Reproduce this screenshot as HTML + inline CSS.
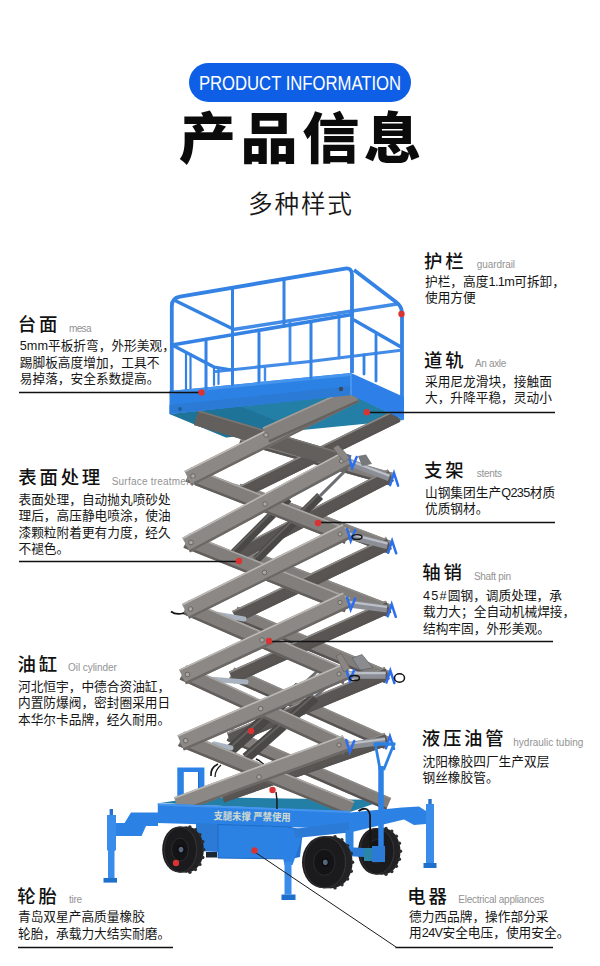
<!DOCTYPE html>
<html lang="zh-CN"><head><meta charset="utf-8"><title>产品信息</title>
<style>
html,body{margin:0;padding:0;background:#fff;}
body{width:600px;height:966px;position:relative;overflow:hidden;font-family:"Liberation Sans","Noto Sans CJK SC",sans-serif;color:#111;}
.pill{position:absolute;left:189px;top:63px;width:222px;height:39px;border-radius:19.5px;background:#0f5fe6;color:#fff;text-align:center;font-size:20.5px;line-height:39px;white-space:nowrap;}
.pill span{position:absolute;left:50%;top:0;transform:translateX(-50%) scaleX(0.813);transform-origin:center;}
.title{position:absolute;left:0;top:96.4px;width:600px;text-align:center;font-family:"Liberation Sans","Noto Sans CJK SC",sans-serif;font-weight:900;font-size:56.5px;line-height:86px;letter-spacing:4.5px;text-indent:4.5px;transform:scale(1.012,0.975);transform-origin:300px 43px;color:#0b0b0b;white-space:nowrap;}
.sub{position:absolute;left:0;top:188px;width:600px;text-align:center;font-weight:350;font-size:24.6px;line-height:34px;letter-spacing:1.8px;text-indent:1.8px;color:#161616;white-space:nowrap;}
svg{position:absolute;left:0;top:0;}
.t,.en,.bd{position:absolute;white-space:nowrap;}
.t{font-size:18.4px;font-weight:500;line-height:26px;color:#111;letter-spacing:2.8px;}
.en{font-size:10px;line-height:14px;color:#939393;}
.bd{font-size:12.7px;line-height:16.5px;color:#151515;}
.n{letter-spacing:-0.6px;}
.w{letter-spacing:1.2px;}
.decal{font-family:"Liberation Sans","Noto Sans CJK SC",sans-serif;font-weight:700;font-size:10.6px;fill:#cdd8d0;}
</style></head><body>
<div class="pill"><span>PRODUCT INFORMATION</span></div>
<div class="title">产品信息</div>
<div class="sub">多种样式</div>
<svg width="600" height="966" viewBox="0 0 600 966">
<g id="deck">
<polygon points="160.0,803.0 200.0,797.0 385.0,800.0 350.0,812.0" fill="#237fa6" />
<polygon points="177.3,767.6 204.4,767.6 204.4,804.0 198.0,804.0 198.0,772.0 183.8,772.0 183.8,804.0 177.3,804.0" fill="#2c82e4" />
<line x1="198.6" y1="772.0" x2="198.6" y2="800.0" stroke="#1f6fcc" stroke-width="1.2" stroke-linecap="butt" />
</g>
<g id="lift">
<polyline points="233.0,329.5 397.0,304.0" fill="none" stroke="#428ce8" stroke-width="3.4" stroke-linejoin="round" stroke-linecap="round" />
<polyline points="216.0,371.5 310.0,361.5 399.0,350.5" fill="none" stroke="#428ce8" stroke-width="3.2" stroke-linejoin="round" stroke-linecap="round" />
<polyline points="290.0,321.0 290.0,362.0" fill="none" stroke="#428ce8" stroke-width="2.8" stroke-linejoin="round" stroke-linecap="round" />
<polyline points="339.0,313.0 339.0,358.0" fill="none" stroke="#428ce8" stroke-width="2.8" stroke-linejoin="round" stroke-linecap="round" />
<polyline points="265.0,368.0 265.0,380.0" fill="none" stroke="#428ce8" stroke-width="2.4" stroke-linejoin="round" stroke-linecap="round" />
<polyline points="176.0,301.0 231.0,328.0" fill="none" stroke="#3482e4" stroke-width="3.4" stroke-linejoin="round" stroke-linecap="round" />
<polyline points="174.0,346.0 214.0,367.0 232.0,370.0" fill="none" stroke="#3482e4" stroke-width="3.2" stroke-linejoin="round" stroke-linecap="round" />
<polyline points="186.0,352.0 186.0,390.0" fill="none" stroke="#3482e4" stroke-width="2.2" stroke-linejoin="round" stroke-linecap="round" />
<polyline points="190.5,354.0 190.5,389.0" fill="none" stroke="#3482e4" stroke-width="2.2" stroke-linejoin="round" stroke-linecap="round" />
<polyline points="214.0,367.0 214.0,385.0" fill="none" stroke="#3482e4" stroke-width="2.2" stroke-linejoin="round" stroke-linecap="round" />
<polyline points="218.5,369.0 218.5,384.0" fill="none" stroke="#3482e4" stroke-width="2.2" stroke-linejoin="round" stroke-linecap="round" />
<polygon points="169.5,414.0 226.0,437.5 404.0,420.0 351.0,394.0" fill="#237fa6" />
<polygon points="169.5,414.0 226.0,437.5 300.0,430.5 240.0,406.0" fill="#17607f" opacity="0.35"/>
<polygon points="243.0,430.6 392.9,472.7 389.4,485.2 239.5,443.1" fill="#817d7a" />
<line x1="242.8" y1="431.4" x2="392.7" y2="473.5" stroke="#8d8a87" stroke-width="1.6" stroke-linecap="butt" />
<line x1="239.8" y1="442.0" x2="389.7" y2="484.1" stroke="#565352" stroke-width="2.4" stroke-linecap="butt" />
<polygon points="240.4,483.7 391.4,541.0 386.8,553.1 235.8,495.8" fill="#817d7a" />
<line x1="240.1" y1="484.4" x2="391.1" y2="541.7" stroke="#8d8a87" stroke-width="1.6" stroke-linecap="butt" />
<line x1="236.2" y1="494.7" x2="387.2" y2="552.0" stroke="#565352" stroke-width="2.4" stroke-linecap="butt" />
<polygon points="238.1,545.3 391.0,604.5 386.3,616.6 233.4,557.4" fill="#817d7a" />
<line x1="237.8" y1="546.0" x2="390.7" y2="605.2" stroke="#8d8a87" stroke-width="1.6" stroke-linecap="butt" />
<line x1="233.8" y1="556.3" x2="386.8" y2="615.5" stroke="#565352" stroke-width="2.4" stroke-linecap="butt" />
<polygon points="237.4,606.8 389.7,671.0 384.7,683.0 232.4,618.8" fill="#817d7a" />
<line x1="237.1" y1="607.6" x2="389.4" y2="671.7" stroke="#8d8a87" stroke-width="1.6" stroke-linecap="butt" />
<line x1="232.8" y1="617.7" x2="385.2" y2="681.9" stroke="#565352" stroke-width="2.4" stroke-linecap="butt" />
<polygon points="234.2,667.5 389.4,736.9 384.1,748.8 228.9,679.4" fill="#817d7a" />
<line x1="233.9" y1="668.2" x2="389.1" y2="737.7" stroke="#8d8a87" stroke-width="1.6" stroke-linecap="butt" />
<line x1="229.4" y1="678.3" x2="384.6" y2="747.7" stroke="#565352" stroke-width="2.4" stroke-linecap="butt" />
<polygon points="231.9,728.9 391.2,798.0 386.0,810.0 226.7,740.8" fill="#817d7a" />
<line x1="231.6" y1="729.6" x2="390.9" y2="798.8" stroke="#8d8a87" stroke-width="1.6" stroke-linecap="butt" />
<line x1="227.2" y1="739.7" x2="386.5" y2="808.9" stroke="#565352" stroke-width="2.4" stroke-linecap="butt" />
<polygon points="394.6,410.0 235.4,487.9 241.1,499.5 400.3,421.6" fill="#585553" />
<line x1="395.0" y1="410.7" x2="235.8" y2="488.6" stroke="#8d8a87" stroke-width="1.6" stroke-linecap="butt" />
<line x1="399.8" y1="420.6" x2="240.6" y2="498.5" stroke="#565352" stroke-width="2.4" stroke-linecap="butt" />
<polygon points="387.8,469.5 232.9,549.7 238.9,561.2 393.8,481.1" fill="#585553" />
<line x1="388.2" y1="470.2" x2="233.3" y2="550.4" stroke="#8d8a87" stroke-width="1.6" stroke-linecap="butt" />
<line x1="393.2" y1="480.0" x2="238.4" y2="560.1" stroke="#565352" stroke-width="2.4" stroke-linecap="butt" />
<polygon points="386.1,537.2 232.2,611.1 237.8,622.8 391.7,549.0" fill="#585553" />
<line x1="386.5" y1="538.0" x2="232.5" y2="611.8" stroke="#8d8a87" stroke-width="1.6" stroke-linecap="butt" />
<line x1="391.2" y1="547.9" x2="237.3" y2="621.7" stroke="#565352" stroke-width="2.4" stroke-linecap="butt" />
<polygon points="385.9,600.8 228.9,671.6 234.2,683.5 391.3,612.6" fill="#585553" />
<line x1="386.2" y1="601.5" x2="229.2" y2="672.4" stroke="#8d8a87" stroke-width="1.6" stroke-linecap="butt" />
<line x1="390.8" y1="611.5" x2="233.7" y2="682.4" stroke="#565352" stroke-width="2.4" stroke-linecap="butt" />
<polygon points="384.7,667.1 226.8,732.8 231.8,744.8 389.7,679.1" fill="#585553" />
<line x1="385.0" y1="667.8" x2="227.1" y2="733.5" stroke="#8d8a87" stroke-width="1.6" stroke-linecap="butt" />
<line x1="389.3" y1="678.0" x2="231.3" y2="743.7" stroke="#565352" stroke-width="2.4" stroke-linecap="butt" />
<polygon points="384.8,733.1 220.0,790.1 224.2,802.4 389.0,745.3" fill="#585553" />
<line x1="385.0" y1="733.8" x2="220.3" y2="790.8" stroke="#8d8a87" stroke-width="1.6" stroke-linecap="butt" />
<line x1="388.6" y1="744.2" x2="223.9" y2="801.2" stroke="#565352" stroke-width="2.4" stroke-linecap="butt" />
<line x1="288.4" y1="498.6" x2="323.0" y2="464.0" stroke="#6d6f73" stroke-width="3" stroke-linecap="butt" />
<line x1="232.0" y1="555.0" x2="288.4" y2="498.6" stroke="#4a4846" stroke-width="8.5" stroke-linecap="butt" />
<line x1="230.4" y1="553.4" x2="286.9" y2="497.0" stroke="#646260" stroke-width="2" stroke-linecap="butt" />
<line x1="320.1" y1="495.9" x2="345.0" y2="471.0" stroke="#6d6f73" stroke-width="3" stroke-linecap="butt" />
<line x1="256.0" y1="560.0" x2="320.1" y2="495.9" stroke="#4a4846" stroke-width="8.5" stroke-linecap="butt" />
<line x1="254.4" y1="558.4" x2="318.5" y2="494.4" stroke="#646260" stroke-width="2" stroke-linecap="butt" />
<line x1="299.9" y1="687.1" x2="321.0" y2="668.0" stroke="#6d6f73" stroke-width="3" stroke-linecap="butt" />
<line x1="225.0" y1="755.0" x2="299.9" y2="687.1" stroke="#4a4846" stroke-width="11.5" stroke-linecap="butt" />
<line x1="223.5" y1="753.4" x2="298.4" y2="685.5" stroke="#646260" stroke-width="2" stroke-linecap="butt" />
<line x1="314.8" y1="697.2" x2="332.0" y2="682.0" stroke="#6d6f73" stroke-width="3" stroke-linecap="butt" />
<line x1="246.0" y1="758.0" x2="314.8" y2="697.2" stroke="#4a4846" stroke-width="10.5" stroke-linecap="butt" />
<line x1="244.5" y1="756.4" x2="313.3" y2="695.6" stroke="#646260" stroke-width="2" stroke-linecap="butt" />
<path d="M218,764 Q210,768 211,776" fill="none" stroke="#161616" stroke-width="1.6"/>
<path d="M221,765 Q215,770 215,777" fill="none" stroke="#161616" stroke-width="1.3"/>
<path d="M256,759 Q262,761 267,769" fill="none" stroke="#161616" stroke-width="1.6"/>
<line x1="200.0" y1="479.0" x2="238.0" y2="487.0" stroke="#a9b3bf" stroke-width="5" stroke-linecap="round" />
<line x1="198.0" y1="611.0" x2="244.0" y2="619.0" stroke="#a9b3bf" stroke-width="5" stroke-linecap="round" />
<line x1="196.0" y1="678.0" x2="246.0" y2="682.0" stroke="#a9b3bf" stroke-width="5" stroke-linecap="round" />
<line x1="214.0" y1="744.0" x2="231.0" y2="748.0" stroke="#a9b3bf" stroke-width="5" stroke-linecap="round" />
<line x1="348.5" y1="462.0" x2="389.3" y2="477.6" stroke="#8b8e94" stroke-width="7.5" stroke-linecap="butt" />
<line x1="348.5" y1="460.2" x2="389.3" y2="475.8" stroke="#bcc0c8" stroke-width="2.2" stroke-linecap="butt" />
<line x1="347.0" y1="535.0" x2="387.4" y2="545.3" stroke="#8b8e94" stroke-width="7.5" stroke-linecap="butt" />
<line x1="347.0" y1="533.2" x2="387.4" y2="543.5" stroke="#bcc0c8" stroke-width="2.2" stroke-linecap="butt" />
<line x1="347.0" y1="603.5" x2="387.0" y2="608.8" stroke="#8b8e94" stroke-width="7.5" stroke-linecap="butt" />
<line x1="347.0" y1="601.7" x2="387.0" y2="607.0" stroke="#bcc0c8" stroke-width="2.2" stroke-linecap="butt" />
<line x1="346.0" y1="675.0" x2="385.6" y2="675.0" stroke="#8b8e94" stroke-width="7.5" stroke-linecap="butt" />
<line x1="346.0" y1="673.2" x2="385.6" y2="673.2" stroke="#bcc0c8" stroke-width="2.2" stroke-linecap="butt" />
<line x1="346.0" y1="746.0" x2="385.2" y2="740.8" stroke="#8b8e94" stroke-width="7.5" stroke-linecap="butt" />
<line x1="346.0" y1="744.2" x2="385.2" y2="739.0" stroke="#bcc0c8" stroke-width="2.2" stroke-linecap="butt" />
<polygon points="198.3,410.2 351.4,455.6 347.0,470.4 193.9,425.1" fill="#625f5c" />
<line x1="198.1" y1="411.0" x2="351.2" y2="456.3" stroke="#7a7673" stroke-width="1.6" stroke-linecap="butt" />
<line x1="194.3" y1="423.9" x2="347.4" y2="469.3" stroke="#625f5d" stroke-width="2.4" stroke-linecap="butt" />
<polygon points="191.2,467.0 350.3,529.3 344.7,543.8 185.5,481.4" fill="#827e7b" />
<line x1="190.9" y1="467.7" x2="350.1" y2="530.1" stroke="#a9a6a3" stroke-width="1.6" stroke-linecap="butt" />
<line x1="186.0" y1="480.3" x2="345.1" y2="542.7" stroke="#625f5d" stroke-width="2.4" stroke-linecap="butt" />
<polygon points="189.2,533.4 350.4,597.9 344.6,612.3 183.5,547.8" fill="#827e7b" />
<line x1="188.9" y1="534.2" x2="350.1" y2="598.6" stroke="#a9a6a3" stroke-width="1.6" stroke-linecap="butt" />
<line x1="183.9" y1="546.7" x2="345.1" y2="611.2" stroke="#625f5d" stroke-width="2.4" stroke-linecap="butt" />
<polygon points="189.0,599.9 349.5,669.7 343.3,683.9 182.8,614.1" fill="#827e7b" />
<line x1="188.7" y1="600.6" x2="349.2" y2="670.4" stroke="#a9a6a3" stroke-width="1.6" stroke-linecap="butt" />
<line x1="183.3" y1="613.0" x2="343.8" y2="682.8" stroke="#625f5d" stroke-width="2.4" stroke-linecap="butt" />
<polygon points="186.2,665.4 349.6,740.9 343.1,755.0 179.7,679.4" fill="#827e7b" />
<line x1="185.9" y1="666.1" x2="349.3" y2="741.6" stroke="#a9a6a3" stroke-width="1.6" stroke-linecap="butt" />
<line x1="180.2" y1="678.3" x2="343.6" y2="753.9" stroke="#625f5d" stroke-width="2.4" stroke-linecap="butt" />
<polygon points="184.0,731.6 354.4,801.5 348.5,815.8 178.1,746.0" fill="#827e7b" />
<line x1="183.7" y1="732.4" x2="354.1" y2="802.2" stroke="#a9a6a3" stroke-width="1.6" stroke-linecap="butt" />
<line x1="178.6" y1="744.9" x2="349.0" y2="814.7" stroke="#625f5d" stroke-width="2.4" stroke-linecap="butt" />
<polygon points="351.7,386.9 184.4,471.1 191.8,485.8 359.1,401.7" fill="#8c8885" />
<line x1="352.0" y1="387.6" x2="184.7" y2="471.8" stroke="#bcb9b6" stroke-width="1.6" stroke-linecap="butt" />
<line x1="358.5" y1="400.6" x2="191.3" y2="484.8" stroke="#6b6866" stroke-width="2.4" stroke-linecap="butt" />
<polygon points="343.9,450.9 182.2,537.8 190.1,552.4 351.7,465.4" fill="#8c8885" />
<line x1="344.3" y1="451.6" x2="182.6" y2="538.5" stroke="#bcb9b6" stroke-width="1.6" stroke-linecap="butt" />
<line x1="351.1" y1="464.4" x2="189.5" y2="551.3" stroke="#6b6866" stroke-width="2.4" stroke-linecap="butt" />
<polygon points="342.7,523.9 181.9,604.1 189.3,618.8 350.0,538.7" fill="#8c8885" />
<line x1="343.0" y1="524.7" x2="182.3" y2="604.8" stroke="#bcb9b6" stroke-width="1.6" stroke-linecap="butt" />
<line x1="349.5" y1="537.6" x2="188.7" y2="617.8" stroke="#6b6866" stroke-width="2.4" stroke-linecap="butt" />
<polygon points="342.9,592.5 179.0,669.4 186.0,684.3 349.9,607.4" fill="#8c8885" />
<line x1="343.3" y1="593.2" x2="179.4" y2="670.1" stroke="#bcb9b6" stroke-width="1.6" stroke-linecap="butt" />
<line x1="349.4" y1="606.3" x2="185.5" y2="683.2" stroke="#6b6866" stroke-width="2.4" stroke-linecap="butt" />
<polygon points="342.2,664.0 177.4,735.3 183.9,750.5 348.8,679.2" fill="#8c8885" />
<line x1="342.6" y1="664.8" x2="177.7" y2="736.0" stroke="#bcb9b6" stroke-width="1.6" stroke-linecap="butt" />
<line x1="348.3" y1="678.1" x2="183.4" y2="749.4" stroke="#6b6866" stroke-width="2.4" stroke-linecap="butt" />
<polygon points="342.8,735.2 174.0,797.2 179.7,812.6 348.5,750.7" fill="#8c8885" />
<line x1="343.1" y1="735.9" x2="174.3" y2="797.9" stroke="#bcb9b6" stroke-width="1.6" stroke-linecap="butt" />
<line x1="348.1" y1="749.6" x2="179.3" y2="811.5" stroke="#6b6866" stroke-width="2.4" stroke-linecap="butt" />
<polygon points="352.1,387.0 262.6,427.5 269.4,442.5 358.9,402.0" fill="#84807d" />
<line x1="352.4" y1="387.7" x2="262.9" y2="428.2" stroke="#a09d9a" stroke-width="1.6" stroke-linecap="butt" />
<line x1="358.4" y1="401.0" x2="268.9" y2="441.4" stroke="#65625f" stroke-width="2.4" stroke-linecap="butt" />
<circle cx="266.0" cy="435.0" r="2.3" fill="#a9a6a3" stroke="#5e5b59" stroke-width="0.8"/>
<circle cx="265.0" cy="504.0" r="2.3" fill="#a9a6a3" stroke="#5e5b59" stroke-width="0.8"/>
<circle cx="264.5" cy="572.5" r="2.3" fill="#a9a6a3" stroke="#5e5b59" stroke-width="0.8"/>
<circle cx="262.0" cy="640.0" r="2.3" fill="#a9a6a3" stroke="#5e5b59" stroke-width="0.8"/>
<circle cx="260.7" cy="708.7" r="2.3" fill="#a9a6a3" stroke="#5e5b59" stroke-width="0.8"/>
<circle cx="259.0" cy="777.0" r="2.3" fill="#a9a6a3" stroke="#5e5b59" stroke-width="0.8"/>
<circle cx="193.0" cy="476.0" r="2.3" fill="#a9a6a3" stroke="#5e5b59" stroke-width="0.8"/>
<circle cx="191.0" cy="542.5" r="2.3" fill="#a9a6a3" stroke="#5e5b59" stroke-width="0.8"/>
<circle cx="190.5" cy="609.0" r="2.3" fill="#a9a6a3" stroke="#5e5b59" stroke-width="0.8"/>
<circle cx="187.5" cy="674.5" r="2.3" fill="#a9a6a3" stroke="#5e5b59" stroke-width="0.8"/>
<circle cx="185.7" cy="740.7" r="2.3" fill="#a9a6a3" stroke="#5e5b59" stroke-width="0.8"/>
<circle cx="341.5" cy="461.0" r="2.1" fill="#a9a6a3" stroke="#5e5b59" stroke-width="0.8"/>
<circle cx="340.0" cy="534.0" r="2.1" fill="#a9a6a3" stroke="#5e5b59" stroke-width="0.8"/>
<circle cx="340.0" cy="602.5" r="2.1" fill="#a9a6a3" stroke="#5e5b59" stroke-width="0.8"/>
<circle cx="339.0" cy="674.0" r="2.1" fill="#a9a6a3" stroke="#5e5b59" stroke-width="0.8"/>
<circle cx="339.0" cy="745.0" r="2.1" fill="#a9a6a3" stroke="#5e5b59" stroke-width="0.8"/>
<polyline points="348.7,456.0 352.2,468.0 356.7,457.0" fill="none" stroke="#2b6ff0" stroke-width="2.5" stroke-linejoin="miter" stroke-linecap="round" />
<polyline points="390.1,485.1 394.0,473.1 398.1,485.6" fill="none" stroke="#2b6ff0" stroke-width="2.5" stroke-linejoin="miter" stroke-linecap="round" />
<polyline points="347.2,529.0 350.7,541.0 355.2,530.0" fill="none" stroke="#2b6ff0" stroke-width="2.5" stroke-linejoin="miter" stroke-linecap="round" />
<polyline points="388.2,552.8 392.1,540.8 396.2,553.3" fill="none" stroke="#2b6ff0" stroke-width="2.5" stroke-linejoin="miter" stroke-linecap="round" />
<polyline points="347.2,597.5 350.7,609.5 355.2,598.5" fill="none" stroke="#2b6ff0" stroke-width="2.5" stroke-linejoin="miter" stroke-linecap="round" />
<polyline points="387.8,616.3 391.7,604.3 395.8,616.8" fill="none" stroke="#2b6ff0" stroke-width="2.5" stroke-linejoin="miter" stroke-linecap="round" />
<polyline points="346.2,669.0 349.7,681.0 354.2,670.0" fill="none" stroke="#2b6ff0" stroke-width="2.5" stroke-linejoin="miter" stroke-linecap="round" />
<polyline points="386.4,682.5 390.3,670.5 394.4,683.0" fill="none" stroke="#2b6ff0" stroke-width="2.5" stroke-linejoin="miter" stroke-linecap="round" />
<polyline points="346.2,740.0 349.7,752.0 354.2,741.0" fill="none" stroke="#2b6ff0" stroke-width="2.5" stroke-linejoin="miter" stroke-linecap="round" />
<polyline points="386.0,748.3 389.9,736.3 394.0,748.8" fill="none" stroke="#2b6ff0" stroke-width="2.5" stroke-linejoin="miter" stroke-linecap="round" />
<polygon points="333.0,448.0 338.0,445.0 350.0,458.0 344.0,462.0" fill="#8a8683" stroke="#5f5c5a" stroke-width="0.6" />
<polygon points="358.0,456.0 366.0,454.5 372.0,464.0 362.0,466.0" fill="#77787c" />
<polygon points="336.0,656.0 341.0,653.5 350.0,668.0 344.0,672.0" fill="#8a8683" stroke="#5f5c5a" stroke-width="0.6" />
<polygon points="352.0,658.0 362.0,654.5 373.0,668.0 360.0,670.0" fill="#8a8c90" stroke="#55575a" stroke-width="0.6" />
<ellipse cx="354.5" cy="678" rx="5" ry="2.6" fill="none" stroke="#141414" stroke-width="1.5"/>
<ellipse cx="399.5" cy="678" rx="5" ry="4.2" fill="none" stroke="#141414" stroke-width="1.5"/>
<ellipse cx="357" cy="537" rx="5" ry="2.4" fill="none" stroke="#141414" stroke-width="1.4"/>
<path d="M184,613 Q176,615.5 171,611.5" fill="none" stroke="#141414" stroke-width="1.8"/>
<polygon points="169.5,391.0 351.0,373.0 351.0,395.0 169.5,414.0" fill="#2c82e4" />
<polygon points="169.5,391.0 351.0,373.0 351.0,376.0 169.5,394.0" fill="#4594ee" />
<polygon points="169.5,405.0 351.0,386.0 351.0,395.0 169.5,414.0" fill="#2a7ad6" />
<polygon points="351.0,373.0 404.0,397.0 404.0,420.0 351.0,395.0" fill="#2e7fe8" />
<line x1="351.0" y1="373.0" x2="351.0" y2="395.0" stroke="#5aa4f4" stroke-width="1.2" stroke-linecap="butt" />
<circle cx="180.0" cy="409.0" r="2" fill="#1f5f9a"/>
<circle cx="341.0" cy="389.0" r="2.2" fill="#3a4a5a"/>
<path d="M171.8,393 L171.8,306 Q171.8,298 180,296.6 L345,268.6 Q352,267.4 352,275 L352,373" fill="none" stroke="#3482e4" stroke-width="3.8" stroke-linejoin="round"/>
<path d="M354,270 L396,302 Q402,306.5 402,313 L402,397" fill="none" stroke="#3482e4" stroke-width="3.8" stroke-linejoin="round"/>
<polyline points="172.0,345.0 352.0,314.5" fill="none" stroke="#3482e4" stroke-width="3.6" stroke-linejoin="round" stroke-linecap="round" />
<polyline points="354.0,320.0 401.0,347.0" fill="none" stroke="#3482e4" stroke-width="3.4" stroke-linejoin="round" stroke-linecap="round" />
<polyline points="206.0,340.0 206.0,390.0" fill="none" stroke="#3482e4" stroke-width="3" stroke-linejoin="round" stroke-linecap="round" />
<polyline points="232.5,288.0 232.5,385.0" fill="none" stroke="#3482e4" stroke-width="3" stroke-linejoin="round" stroke-linecap="round" />
<polyline points="259.0,333.0 259.0,382.0" fill="none" stroke="#3482e4" stroke-width="3" stroke-linejoin="round" stroke-linecap="round" />
<polyline points="284.0,280.0 284.0,326.0" fill="none" stroke="#3482e4" stroke-width="3" stroke-linejoin="round" stroke-linecap="round" />
<polyline points="311.0,322.0 311.0,378.0" fill="none" stroke="#3482e4" stroke-width="3" stroke-linejoin="round" stroke-linecap="round" />
<polyline points="364.0,355.0 364.0,374.0" fill="none" stroke="#3482e4" stroke-width="2.8" stroke-linejoin="round" stroke-linecap="round" />
<polyline points="376.0,335.0 376.0,381.0" fill="none" stroke="#3482e4" stroke-width="2.8" stroke-linejoin="round" stroke-linecap="round" />
</g>
<g id="base">
<ellipse cx="383.0" cy="851.3" rx="17.5" ry="23.3" fill="#222224"/>
<rect x="375.5" y="828.0" width="7.5" height="46.6" fill="#222224"/>
<circle cx="386.0" cy="828.4" r="1.7" fill="#2d2d30"/>
<circle cx="391.8" cy="831.1" r="1.7" fill="#2d2d30"/>
<circle cx="396.4" cy="836.3" r="1.7" fill="#2d2d30"/>
<circle cx="399.4" cy="843.3" r="1.7" fill="#2d2d30"/>
<circle cx="400.5" cy="851.3" r="1.7" fill="#2d2d30"/>
<circle cx="399.4" cy="859.3" r="1.7" fill="#2d2d30"/>
<circle cx="396.4" cy="866.3" r="1.7" fill="#2d2d30"/>
<circle cx="391.8" cy="871.5" r="1.7" fill="#2d2d30"/>
<circle cx="386.0" cy="874.2" r="1.7" fill="#2d2d30"/>
<ellipse cx="375.5" cy="851.3" rx="17.5" ry="23.3" fill="#1b1b1d"/>
<ellipse cx="377.0" cy="851.3" rx="17.0" ry="22.8" fill="none" stroke="#3a3a3e" stroke-width="0.8"/>
<ellipse cx="376.5" cy="851.3" rx="8.8" ry="11.7" fill="#141416" stroke="#2c2c30" stroke-width="1"/>
<ellipse cx="377.5" cy="851.3" rx="3" ry="3.4" fill="#56657a" stroke="#0a0a0b" stroke-width="1.2"/>
<polygon points="346.0,847.0 381.0,849.0 381.0,858.0 346.0,856.0" fill="#2a7ad6" />
<polyline points="375.0,744.0 394.0,744.0" fill="none" stroke="#2c82e4" stroke-width="3.4" stroke-linejoin="round" stroke-linecap="round" />
<polyline points="375.5,745.0 380.0,769.0" fill="none" stroke="#2c82e4" stroke-width="2.8" stroke-linejoin="round" stroke-linecap="round" />
<polyline points="393.5,745.0 384.0,769.0" fill="none" stroke="#2c82e4" stroke-width="2.8" stroke-linejoin="round" stroke-linecap="round" />
<line x1="381.0" y1="766.0" x2="381.0" y2="858.0" stroke="#2c82e4" stroke-width="5.5" stroke-linecap="butt" />
<polygon points="364.0,848.0 372.0,848.0 372.0,861.0 364.0,861.0" fill="#2a86a8" />
<polygon points="372.0,846.0 385.0,846.0 385.0,862.0 372.0,862.0" fill="#2a7ad6" />
<polygon points="345.0,813.0 402.0,807.5 419.0,806.5 426.0,811.0 426.0,824.0 414.0,825.0 404.0,819.5 348.0,833.0 345.0,833.0" fill="#2c82e4" />
<polygon points="426.0,804.0 434.0,804.0 434.0,863.0 426.0,863.0" fill="#3a8cea" />
<polygon points="428.3,799.0 431.7,799.0 431.7,804.0 428.3,804.0" fill="#2a6fc8" />
<polygon points="423.5,863.0 436.5,863.0 436.5,868.0 423.5,868.0" fill="#1f6fcc" />
<polygon points="157.8,803.5 350.0,811.0 350.0,829.0 157.8,823.0" fill="#2c82e4" />
<polygon points="157.8,803.5 350.0,811.0 350.0,813.0 157.8,805.5" fill="#4594ee" />
<polygon points="196.0,823.0 219.0,824.0 219.0,852.0 196.0,851.0" fill="#2a7ad6" />
<polygon points="206.0,852.0 217.0,852.0 217.0,857.5 206.0,857.5" fill="#1b2733" />
<polygon points="218.0,824.5 291.0,827.0 291.0,859.0 218.0,858.0" fill="#2c82e2" stroke="#1f6ac4" stroke-width="1" />
<polygon points="291.0,827.0 303.0,830.0 300.0,857.0 291.0,859.0" fill="#2371d0" />
<polygon points="158.0,812.5 131.0,812.5 124.5,823.0 115.0,823.0 115.0,836.0 141.6,836.0 146.0,826.0 158.0,826.0" fill="#2c82e4" />
<polygon points="107.0,815.0 116.0,815.0 116.0,850.0 114.5,851.0 114.5,878.0 108.0,878.0 108.0,851.0 107.0,850.0" fill="#3a8cea" />
<polygon points="109.6,809.0 113.0,809.0 113.0,815.0 109.6,815.0" fill="#2a6fc8" />
<polygon points="103.5,878.0 117.0,878.0 117.0,882.6 103.5,882.6" fill="#1f6fcc" />
<polygon points="277.0,828.0 305.0,829.0 292.5,865.0 284.5,865.0" fill="#2c82e4" />
<polygon points="284.5,862.0 291.5,862.0 291.5,894.5 284.5,894.5" fill="#3a8cea" />
<polygon points="281.5,894.5 295.5,894.5 295.5,900.0 281.5,900.0" fill="#1f6fcc" />
<polygon points="293.0,829.0 349.0,822.0 349.0,832.5 296.0,838.0" fill="#2a7ad6" />
<polygon points="345.5,830.0 353.5,830.0 353.5,850.0 345.5,850.0" fill="#2f84e2" />
<path d="M358.5,811 Q368,805 370,815 L370.3,846" fill="none" stroke="#141414" stroke-width="1.8"/>
<ellipse cx="187" cy="849.6" rx="16.8" ry="23" fill="#222224"/>
<rect x="179" y="826.6" width="8" height="46" fill="#222224"/>
<circle cx="189.9" cy="826.9" r="1.7" fill="#2d2d30"/>
<circle cx="195.4" cy="829.7" r="1.7" fill="#2d2d30"/>
<circle cx="199.9" cy="834.8" r="1.7" fill="#2d2d30"/>
<circle cx="202.8" cy="841.7" r="1.7" fill="#2d2d30"/>
<circle cx="203.8" cy="849.6" r="1.7" fill="#2d2d30"/>
<circle cx="202.8" cy="857.5" r="1.7" fill="#2d2d30"/>
<circle cx="199.9" cy="864.4" r="1.7" fill="#2d2d30"/>
<circle cx="195.4" cy="869.5" r="1.7" fill="#2d2d30"/>
<circle cx="189.9" cy="872.3" r="1.7" fill="#2d2d30"/>
<ellipse cx="179" cy="849.6" rx="16.8" ry="23" fill="#1b1b1d"/>
<ellipse cx="180.5" cy="849.6" rx="16.3" ry="22.5" fill="none" stroke="#3a3a3e" stroke-width="0.8"/>
<ellipse cx="180" cy="849.6" rx="8.4" ry="11.5" fill="#141416" stroke="#2c2c30" stroke-width="1"/>
<ellipse cx="181" cy="849.6" rx="3" ry="3.4" fill="#56657a" stroke="#0a0a0b" stroke-width="1.2"/>
<ellipse cx="331.3" cy="862.3" rx="21.3" ry="26" fill="#222224"/>
<rect x="323.3" y="836.3" width="8" height="52" fill="#222224"/>
<circle cx="335.0" cy="836.7" r="1.7" fill="#2d2d30"/>
<circle cx="341.9" cy="839.8" r="1.7" fill="#2d2d30"/>
<circle cx="347.6" cy="845.6" r="1.7" fill="#2d2d30"/>
<circle cx="351.3" cy="853.4" r="1.7" fill="#2d2d30"/>
<circle cx="352.6" cy="862.3" r="1.7" fill="#2d2d30"/>
<circle cx="351.3" cy="871.2" r="1.7" fill="#2d2d30"/>
<circle cx="347.6" cy="879.0" r="1.7" fill="#2d2d30"/>
<circle cx="342.0" cy="884.8" r="1.7" fill="#2d2d30"/>
<circle cx="335.0" cy="887.9" r="1.7" fill="#2d2d30"/>
<ellipse cx="323.3" cy="862.3" rx="21.3" ry="26" fill="#1b1b1d"/>
<ellipse cx="324.8" cy="862.3" rx="20.8" ry="25.5" fill="none" stroke="#3a3a3e" stroke-width="0.8"/>
<ellipse cx="324.3" cy="862.3" rx="10.7" ry="13.0" fill="#141416" stroke="#2c2c30" stroke-width="1"/>
<ellipse cx="325.3" cy="862.3" rx="3" ry="3.4" fill="#56657a" stroke="#0a0a0b" stroke-width="1.2"/>
<text class="decal" x="213.5" y="819.6" textLength="77" lengthAdjust="spacingAndGlyphs" transform="rotate(1.2 213.5 819.6)">支腿未撑 严禁使用</text>
</g>
<g id="callouts">
<line x1="19" y1="392.5" x2="200" y2="392.5" stroke="#111" stroke-width="1.3"/>
<line x1="19" y1="561.5" x2="236" y2="561.5" stroke="#111" stroke-width="1.3"/>
<line x1="18" y1="947.5" x2="173" y2="947.5" stroke="#111" stroke-width="1.3"/>
<line x1="368" y1="412.5" x2="555" y2="412.5" stroke="#111" stroke-width="1.3"/>
<line x1="320" y1="522.5" x2="555" y2="522.5" stroke="#111" stroke-width="1.3"/>
<line x1="270" y1="641.5" x2="553" y2="641.5" stroke="#111" stroke-width="1.3"/>
<line x1="395.5" y1="947.5" x2="553" y2="947.5" stroke="#111" stroke-width="1.3"/>
<line x1="254" y1="851.5" x2="396" y2="947" stroke="#1a1a1a" stroke-width="1"/>
<path d="M276,792 Q277.5,800 277,809" fill="none" stroke="#161616" stroke-width="1.4"/>
<circle cx="201.5" cy="392.5" r="3.2" fill="#db3333"/>
<circle cx="401.5" cy="314.0" r="3.2" fill="#db3333"/>
<circle cx="366.8" cy="412.2" r="3.2" fill="#db3333"/>
<circle cx="318.0" cy="523.0" r="3.2" fill="#db3333"/>
<circle cx="239.0" cy="561.0" r="3.2" fill="#db3333"/>
<circle cx="269.0" cy="641.0" r="3.2" fill="#db3333"/>
<circle cx="251.0" cy="731.0" r="3.2" fill="#db3333"/>
<circle cx="272.5" cy="790.0" r="3.2" fill="#db3333"/>
<circle cx="176.0" cy="863.0" r="3.2" fill="#db3333"/>
<circle cx="254.5" cy="850.5" r="3.2" fill="#db3333"/>
</g>
</svg>
<div class="t" style="left:17.7px;top:312.1px">台面</div><div class="en" style="left:69.0px;top:321.7px;letter-spacing:-0.66px">mesa</div><div class="bd" style="left:19.8px;top:338.0px">5mm平板折弯，外形美观，<br>踢脚板高度增加，工具不<br>易掉落，安全系数提高。</div>
<div class="t" style="left:18.3px;top:465.1px">表面处理</div><div class="en" style="left:111.7px;top:474.7px;letter-spacing:0.22px">Surface treatment</div><div class="bd" style="left:18.5px;top:491.9px">表面处理，自动抛丸喷砂处<br>理后，高压静电喷涂，使油<br>漆颗粒附着更有力度，经久<br>不褪色。</div>
<div class="t" style="left:17.5px;top:651.8px">油缸</div><div class="en" style="left:68.0px;top:661.4px;letter-spacing:-0.06px">Oil cylinder</div><div class="bd" style="left:18.0px;top:678.6px">河北恒宇，中德合资油缸，<br>内置防爆阀，密封圈采用日<br>本华尔卡品牌，经久耐用。</div>
<div class="t" style="left:17.3px;top:883.5px">轮胎</div><div class="en" style="left:69.0px;top:893.1px;letter-spacing:-0.30px">tire</div><div class="bd" style="left:18.0px;top:909.3px">青岛双星产高质量橡胶<br>轮胎，承载力大结实耐磨。</div>
<div class="t" style="left:424.0px;top:248.5px">护栏</div><div class="en" style="left:476.7px;top:258.1px;letter-spacing:-0.07px">guardrail</div><div class="bd" style="left:425.0px;top:273.6px">护栏，高度<span class="n">1.1m</span>可拆卸，<br>使用方便</div>
<div class="t" style="left:424.0px;top:347.5px">道轨</div><div class="en" style="left:475.0px;top:357.1px;letter-spacing:-0.34px">An axle</div><div class="bd" style="left:425.0px;top:373.6px">采用尼龙滑块，接触面<br>大，升降平稳，灵动小</div>
<div class="t" style="left:424.0px;top:457.5px">支架</div><div class="en" style="left:476.7px;top:467.1px;letter-spacing:-0.28px">stents</div><div class="bd" style="left:425.0px;top:484.6px">山钢集团生产<span class="n">Q235</span>材质<br>优质钢材。</div>
<div class="t" style="left:422.3px;top:560.1px">轴销</div><div class="en" style="left:474.0px;top:569.7px;letter-spacing:-0.31px">Shaft pin</div><div class="bd" style="left:423.0px;top:587.6px"><span class="w">45#</span>圆钢，调质处理，承<br>载力大；全自动机械焊接，<br>结构牢固，外形美观。</div>
<div class="t" style="left:421.7px;top:726.1px">液压油管</div><div class="en" style="left:513.3px;top:735.7px;letter-spacing:-0.00px">hydraulic tubing</div><div class="bd" style="left:422.5px;top:753.6px">沈阳橡胶四厂生产双层<br>钢丝橡胶管。</div>
<div class="t" style="left:407.3px;top:883.5px">电器</div><div class="en" style="left:458.3px;top:893.1px;letter-spacing:-0.26px">Electrical appliances</div><div class="bd" style="left:409.0px;top:908.6px">德力西品牌，操作部分采<br>用<span class="n">24V</span>安全电压，使用安全。</div>
</body></html>
